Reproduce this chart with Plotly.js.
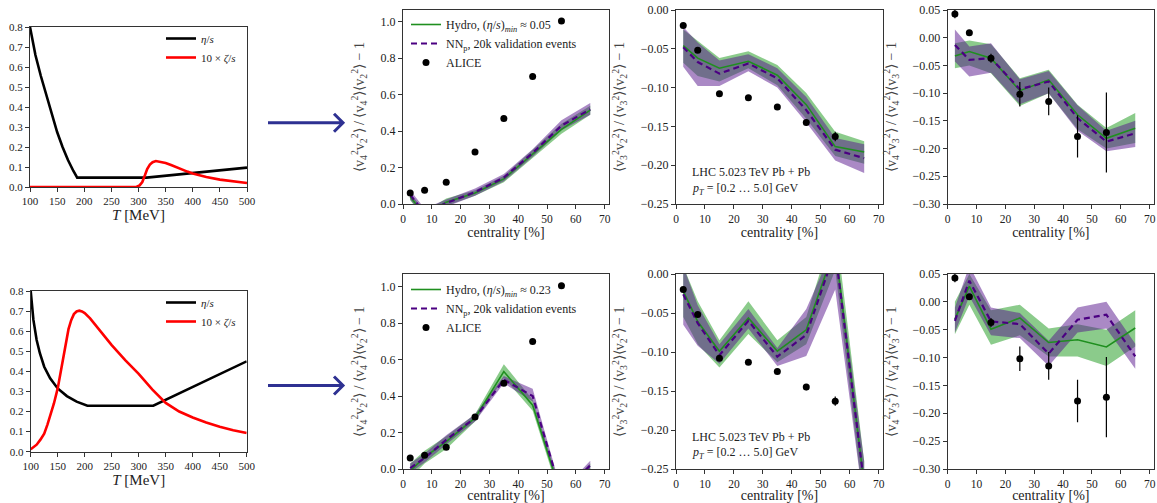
<!DOCTYPE html>
<html>
<head>
<meta charset="utf-8">
<script src="https://cdn.plot.ly/plotly-3.0.1.min.js"></script>
<style>html,body{margin:0;padding:0;background:#fff;}#chart{width:1157px;height:503px;}</style>
</head>
<body>
<div id="chart"></div>
<script>
// ---------- data ----------
const tempTop = [100,105,110,120,130,140,150,160,170,180,187,315,500];
const etaTop = [0.8,0.725,0.66,0.555,0.46,0.365,0.275,0.2,0.135,0.08,0.047,0.047,0.097];
const tempZetaTop = [100,296,302,307,312,316,321,326,332,340,350,360,375,390,400,425,450,475,500];
const zetaTop = [0,0,0.008,0.025,0.06,0.09,0.112,0.124,0.13,0.127,0.12,0.11,0.092,0.077,0.068,0.05,0.037,0.027,0.02];

const tempBot = [100,105,111,117,125,136,150,167,185,205,327,500];
const etaBot = [0.8,0.656,0.556,0.49,0.423,0.365,0.315,0.277,0.249,0.229,0.229,0.45];
const tempZetaBot = [100,111,118,125,131,136,143,150,155,160,165,170,175,180,185,190,195,200,210,225,250,275,300,325,350,375,400,425,450,475,500];
const zetaBot = [0.012,0.035,0.06,0.09,0.135,0.175,0.24,0.315,0.39,0.465,0.545,0.61,0.655,0.685,0.698,0.702,0.698,0.69,0.664,0.614,0.531,0.456,0.387,0.31,0.243,0.2,0.17,0.145,0.124,0.107,0.093];

const cent = [2.5,7.5,15,25,35,45,55,65];
const aliceCent = [2.5,7.5,15,25,35,45,55];
const alice42 = [0.06,0.075,0.12,0.285,0.47,0.70,1.005];
const alice42Err = [0.006,0.006,0.006,0.008,0.01,0.01,0.012];
const alice32 = [-0.02,-0.052,-0.108,-0.113,-0.125,-0.145,-0.163];
const alice32Err = [0.003,0.003,0.003,0.003,0.003,0.004,0.006];
const alice43 = [0.043,0.009,-0.037,-0.102,-0.115,-0.178,-0.171];
const alice43Err = [0.008,0.004,0.008,0.022,0.025,0.038,0.072];

// top row: (eta/s)_min ~ 0.05
const hydroA42 = [0.04,-0.06,0.01,0.06,0.138,0.273,0.41,0.515];
const hydroA42Lo = [0.02,-0.08,-0.01,0.045,0.12,0.25,0.385,0.49];
const hydroA42Hi = [0.06,-0.04,0.03,0.075,0.155,0.295,0.44,0.54];
const nnA42 = [0.05,-0.05,0.005,0.065,0.145,0.28,0.43,0.52];
const nnA42Lo = [0.025,-0.075,-0.015,0.045,0.125,0.26,0.405,0.49];
const nnA42Hi = [0.075,-0.025,0.025,0.085,0.165,0.30,0.46,0.555];

const hydroA32 = [-0.046,-0.062,-0.075,-0.066,-0.084,-0.122,-0.176,-0.183];
const hydroA32Lo = [-0.068,-0.085,-0.092,-0.075,-0.097,-0.14,-0.188,-0.198];
const hydroA32Hi = [-0.025,-0.04,-0.062,-0.053,-0.071,-0.107,-0.157,-0.169];
const nnA32 = [-0.048,-0.067,-0.082,-0.069,-0.088,-0.129,-0.18,-0.191];
const nnA32Lo = [-0.073,-0.098,-0.098,-0.079,-0.1,-0.145,-0.194,-0.21];
const nnA32Hi = [-0.022,-0.042,-0.065,-0.057,-0.075,-0.112,-0.165,-0.173];

const hydroA43 = [-0.033,-0.025,-0.037,-0.0955,-0.076,-0.139,-0.1815,-0.1635];
const hydroA43Lo = [-0.055,-0.05,-0.064,-0.123,-0.1,-0.165,-0.2,-0.19];
const hydroA43Hi = [-0.01,-0.005,-0.012,-0.073,-0.058,-0.121,-0.163,-0.136];
const nnA43 = [-0.013,-0.04,-0.037,-0.093,-0.079,-0.145,-0.1875,-0.1725];
const nnA43Lo = [-0.043,-0.07,-0.063,-0.12,-0.1,-0.168,-0.205,-0.197];
const nnA43Hi = [0.015,-0.016,-0.01,-0.075,-0.06,-0.122,-0.168,-0.15];

// bottom row: (eta/s)_min ~ 0.23
const hydroB42 = [-0.01,0.065,0.15,0.28,0.535,0.35,-0.15,0.0];
const hydroB42Lo = [-0.05,0.03,0.11,0.26,0.5,0.32,-0.18,-0.03];
const hydroB42Hi = [0.03,0.1,0.18,0.3,0.575,0.38,-0.12,0.03];
const nnB42 = [0.005,0.06,0.16,0.28,0.49,0.40,-0.14,0.02];
const nnB42Lo = [-0.02,0.035,0.135,0.26,0.47,0.37,-0.16,-0.01];
const nnB42Hi = [0.03,0.085,0.185,0.3,0.51,0.44,-0.12,0.045];

const hydroB32 = [-0.022,-0.061,-0.099,-0.0565,-0.099,-0.0715,0.035,-0.27];
const hydroB32Lo = [-0.055,-0.09,-0.12,-0.077,-0.113,-0.09,0.005,-0.3];
const hydroB32Hi = [0.01,-0.035,-0.085,-0.035,-0.085,-0.055,0.065,-0.24];
const nnB32 = [-0.026,-0.063,-0.104,-0.06,-0.106,-0.078,0.03,-0.27];
const nnB32Lo = [-0.065,-0.092,-0.115,-0.07,-0.118,-0.105,-0.02,-0.3];
const nnB32Hi = [0.01,-0.04,-0.09,-0.045,-0.095,-0.045,0.04,-0.24];

const hydroB43 = [-0.031,0.028,-0.049,-0.029,-0.073,-0.068,-0.081,-0.047];
const hydroB43Lo = [-0.058,-0.005,-0.077,-0.06,-0.098,-0.098,-0.115,-0.08];
const hydroB43Hi = [0.0,0.05,-0.015,-0.005,-0.048,-0.04,-0.05,-0.015];
const nnB43 = [-0.034,0.038,-0.035,-0.04,-0.093,-0.032,-0.023,-0.098];
const nnB43Lo = [-0.055,0.01,-0.06,-0.065,-0.115,-0.055,-0.048,-0.12];
const nnB43Hi = [-0.01,0.065,-0.01,-0.02,-0.07,-0.01,0.0,-0.075];

const legendHydroTop = 'Hydro, (<i>η</i>/<i>s</i>)<sub><i>min</i></sub> ≈ 0.05';
const legendHydroBot = 'Hydro, (<i>η</i>/<i>s</i>)<sub><i>min</i></sub> ≈ 0.23';
const legendNN = 'NN<sub>p</sub>, 20k validation events';
const legendAlice = 'ALICE';

// ---------- styling ----------
const FONT = 'Liberation Serif';
const GREEN = '#1f8f1f';
const GREEN_FILL = 'rgba(44,160,44,0.55)';
const PURPLE = '#4b0082';
const PURPLE_FILL = 'rgba(85,20,140,0.5)';
const W = 1157, H = 503;

const traces = [];
function bandTrace(lo, hi, fill, ax) {
  return {x: cent.concat(cent.slice().reverse()), y: hi.concat(lo.slice().reverse()),
    type:'scatter', mode:'lines', fill:'toself', fillcolor:fill, line:{width:0},
    hoverinfo:'skip', showlegend:false, xaxis:'x'+ax, yaxis:'y'+ax};
}
function addCentPanel(ax, h, hLo, hHi, n, nLo, nHi, ali, aliErr, legendName, hydroLabel) {
  traces.push(bandTrace(hLo, hHi, GREEN_FILL, ax));
  traces.push(bandTrace(nLo, nHi, PURPLE_FILL, ax));
  const show = !!legendName;
  traces.push({x:cent, y:h, type:'scatter', mode:'lines', line:{color:GREEN, width:1.6},
    name:hydroLabel||'Hydro', showlegend:show, legend:legendName||'legend', xaxis:'x'+ax, yaxis:'y'+ax});
  traces.push({x:cent, y:n, type:'scatter', mode:'lines', line:{color:PURPLE, width:2.2, dash:'6px,4px'},
    name:legendNN, showlegend:show, legend:legendName||'legend', xaxis:'x'+ax, yaxis:'y'+ax});
  traces.push({x:aliceCent, y:ali, type:'scatter', mode:'markers', marker:{color:'#000', size:7},
    error_y:{type:'data', array:aliErr, visible:true, color:'#000', thickness:1.2, width:0},
    cliponaxis:false,
    name:legendAlice, showlegend:show, legend:legendName||'legend', xaxis:'x'+ax, yaxis:'y'+ax});
}
function addTempPanel(ax, tEta, eta, tZeta, zeta, legendName) {
  traces.push({x:tEta, y:eta, type:'scatter', mode:'lines', line:{color:'#000', width:2.6},
    name:'<i>η</i>/<i>s</i>', legend:legendName, xaxis:'x'+ax, yaxis:'y'+ax});
  traces.push({x:tZeta, y:zeta, type:'scatter', mode:'lines', line:{color:'#ff0000', width:2.6},
    name:'10 × <i>ζ</i>/<i>s</i>', legend:legendName, xaxis:'x'+ax, yaxis:'y'+ax});
}

addTempPanel('', tempTop, etaTop, tempZetaTop, zetaTop, 'legend3');
addCentPanel('2', hydroA42, hydroA42Lo, hydroA42Hi, nnA42, nnA42Lo, nnA42Hi, alice42, alice42Err, 'legend', legendHydroTop);
addCentPanel('3', hydroA32, hydroA32Lo, hydroA32Hi, nnA32, nnA32Lo, nnA32Hi, alice32, alice32Err, null);
addCentPanel('4', hydroA43, hydroA43Lo, hydroA43Hi, nnA43, nnA43Lo, nnA43Hi, alice43, alice43Err, null);
addTempPanel('5', tempBot, etaBot, tempZetaBot, zetaBot, 'legend4');
addCentPanel('6', hydroB42, hydroB42Lo, hydroB42Hi, nnB42, nnB42Lo, nnB42Hi, alice42, alice42Err, 'legend2', legendHydroBot);
addCentPanel('7', hydroB32, hydroB32Lo, hydroB32Hi, nnB32, nnB32Lo, nnB32Hi, alice32, alice32Err, null);
addCentPanel('8', hydroB43, hydroB43Lo, hydroB43Hi, nnB43, nnB43Lo, nnB43Hi, alice43, alice43Err, null);

// ---------- layout ----------
function dx(a,b){return [a/W, b/W];}
function dy(top,bottom){return [1-bottom/H, 1-top/H];}
function baseAxis(extra){
  return Object.assign({showgrid:false, zeroline:false, showline:true, linecolor:'#333', linewidth:1,
    mirror:true, ticks:'outside', ticklen:4, tickcolor:'#333', tickfont:{family:FONT, size:12, color:'#222'}}, extra);
}
const yTitle42 = '⟨v<sub>4</sub><sup>2</sup>v<sub>2</sub><sup>2</sup>⟩ / ⟨v<sub>4</sub><sup>2</sup>⟩⟨v<sub>2</sub><sup>2</sup>⟩ − 1';
const yTitle32 = '⟨v<sub>3</sub><sup>2</sup>v<sub>2</sub><sup>2</sup>⟩ / ⟨v<sub>3</sub><sup>2</sup>⟩⟨v<sub>2</sub><sup>2</sup>⟩ − 1';
const yTitle43 = '⟨v<sub>4</sub><sup>2</sup>v<sub>3</sub><sup>2</sup>⟩ / ⟨v<sub>4</sub><sup>2</sup>⟩⟨v<sub>3</sub><sup>2</sup>⟩ − 1';
const titleFont = {family:FONT, size:15, color:'#222'};
const centTitleFont = {family:FONT, size:14, color:'#222'};
const yTitleFont = {family:FONT, size:14, color:'#444'};

function tempX(dom, anchor){return baseAxis({domain:dom, range:[100,500], tickvals:[100,150,200,250,300,350,400,450,500], anchor:anchor,
  tickfont:{family:FONT, size:11, color:'#222'}, title:{text:'<i>T</i> [MeV]', font:titleFont, standoff:2}});}
function tempY(dom, anchor){return baseAxis({domain:dom, range:[0,0.8], tickvals:[0,0.1,0.2,0.3,0.4,0.5,0.6,0.7,0.8], tickformat:'.1f', anchor:anchor,
  tickfont:{family:FONT, size:11, color:'#222'}});}
function centX(dom, anchor){return baseAxis({domain:dom, range:[0,71.5], tickvals:[0,10,20,30,40,50,60,70], anchor:anchor,
  tickfont:{family:FONT, size:11.5, color:'#222'},
  title:{text:'centrality [%]', font:centTitleFont, standoff:3}});}
function centY(dom, anchor, range, tv, fmt, title){return baseAxis({domain:dom, range:range, tickvals:tv, tickformat:fmt, anchor:anchor,
  title:{text:title, font:yTitleFont, standoff:12}});}

const tv42 = [0,0.2,0.4,0.6,0.8,1.0];
const tv32 = [0,-0.05,-0.10,-0.15,-0.20,-0.25];
const tv43 = [0.05,0,-0.05,-0.10,-0.15,-0.20,-0.25,-0.30];

const topRow = dy(10,204), botRow = dy(274,469);
const c2 = dx(403,609), c3 = dx(676,883), c4 = dx(947.7,1154);
const legFont = {family:FONT, size:12, color:'#222'};
const legFontSmall = {family:FONT, size:11, color:'#222'};

const layout = {
  width:W, height:H, margin:{l:0,r:0,t:0,b:0}, paper_bgcolor:'#fff', plot_bgcolor:'#fff',
  font:{family:FONT, color:'#222'},
  xaxis: tempX(dx(30,247), 'y'), yaxis: tempY(dy(27,187), 'x'),
  xaxis2: centX(c2, 'y2'), yaxis2: centY(topRow, 'x2', [0,1.065], tv42, '.1f', yTitle42),
  xaxis3: centX(c3, 'y3'), yaxis3: centY(topRow, 'x3', [-0.25,0], tv32, '.2f', yTitle32),
  xaxis4: centX(c4, 'y4'), yaxis4: centY(topRow, 'x4', [-0.30,0.05], tv43, '.2f', yTitle43),
  xaxis5: tempX(dx(30.7,246.7), 'y5'), yaxis5: tempY(dy(291,451.7), 'x5'),
  xaxis6: centX(c2, 'y6'), yaxis6: centY(botRow, 'x6', [0,1.07], tv42, '.1f', yTitle42),
  xaxis7: centX(c3, 'y7'), yaxis7: centY(botRow, 'x7', [-0.25,0], tv32, '.2f', yTitle32),
  xaxis8: centX(c4, 'y8'), yaxis8: centY(botRow, 'x8', [-0.30,0.05], tv43, '.2f', yTitle43),
  legend: {x:406/W, y:1-10/H, xanchor:'left', yanchor:'top', bgcolor:'rgba(0,0,0,0)', font:legFont,
    tracegroupgap:0, itemwidth:30},
  legend2: {x:406/W, y:1-275/H, xanchor:'left', yanchor:'top', bgcolor:'rgba(0,0,0,0)', font:legFont,
    tracegroupgap:0, itemwidth:30},
  legend3: {x:161/W, y:1-24/H, xanchor:'left', yanchor:'top', bgcolor:'rgba(0,0,0,0)', font:legFontSmall,
    tracegroupgap:0, itemwidth:30},
  legend4: {x:161/W, y:1-288/H, xanchor:'left', yanchor:'top', bgcolor:'rgba(0,0,0,0)', font:legFontSmall,
    tracegroupgap:0, itemwidth:30},
  annotations: [
    {xref:'paper', yref:'paper', x:690/W, y:1-172/H, xanchor:'left', yanchor:'middle', showarrow:false,
     text:'LHC 5.023 TeV Pb + Pb', font:{family:FONT, size:12, color:'#222'}},
    {xref:'paper', yref:'paper', x:690/W, y:1-189/H, xanchor:'left', yanchor:'middle', showarrow:false,
     text:'<i>p<sub>T</sub></i> = [0.2 … 5.0] GeV', font:{family:FONT, size:12, color:'#222'}},
    {xref:'paper', yref:'paper', x:690/W, y:1-437/H, xanchor:'left', yanchor:'middle', showarrow:false,
     text:'LHC 5.023 TeV Pb + Pb', font:{family:FONT, size:12, color:'#222'}},
    {xref:'paper', yref:'paper', x:690/W, y:1-453/H, xanchor:'left', yanchor:'middle', showarrow:false,
     text:'<i>p<sub>T</sub></i> = [0.2 … 5.0] GeV', font:{family:FONT, size:12, color:'#222'}}
  ],
  shapes: [122.7, 385.5].map(function(yy){
    const y0 = 1-yy/H, yU = 1-(yy-9)/H, yD = 1-(yy+9)/H;
    return {type:'path', xref:'paper', yref:'paper',
      path:'M '+(268/W)+' '+y0+' L '+(343/W)+' '+y0+' M '+(334/W)+' '+yU+' L '+(343/W)+' '+y0+' L '+(334/W)+' '+yD,
      line:{color:'#2e3192', width:3}};
  })
};

Plotly.newPlot('chart', traces, layout, {staticPlot:true, displayModeBar:false});
</script>
</body>
</html>
